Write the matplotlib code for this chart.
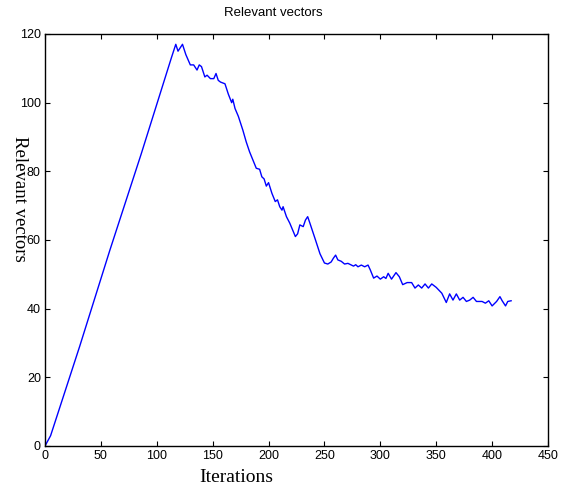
import matplotlib
matplotlib.use('Agg')
from matplotlib import pyplot as plt

# iteration / number of relevant vectors
iterations = [0, 5, 31, 58, 86, 113,
              117, 119, 121, 123, 126, 130, 133, 136, 138, 140, 143, 145, 148, 151,
              153, 155, 157, 161, 164, 167, 168, 170, 173, 177, 180, 183, 186, 189,
              192, 194, 196, 198, 200, 203, 206, 208, 210, 212, 213, 216, 219, 224,
              226, 228, 231, 233, 235, 237, 242, 246, 250, 253, 256, 258, 260, 262,
              265, 268, 271, 276, 278, 280, 283, 286, 289, 291, 294, 297, 300, 303,
              305, 307, 310, 314, 317, 320, 324, 328, 331, 334, 337, 340, 343, 346,
              350, 355, 359, 362, 365, 368, 371, 374, 377, 380, 383, 386, 391, 394,
              397, 400, 404, 407, 409, 412, 414, 417]
relevant = [0, 3, 29, 57, 85, 113,
            117, 115, 116, 117, 114, 111, 111, 109.5, 111, 110.5, 107.5, 108, 107, 107,
            108.5, 106.5, 106, 105.5, 102.5, 100, 101, 98.3, 96, 92, 88.6, 85.7, 83.3, 80.9,
            80.6, 78.4, 77.8, 75.7, 76.7, 73.6, 71.2, 71.7, 69.7, 68.7, 69.7, 66.8, 64.9, 61,
            61.8, 64.4, 63.9, 65.8, 66.8, 64.9, 60, 56, 53.3, 53, 53.6, 54.7, 55.6, 54.2,
            53.8, 53, 53.2, 52.4, 52.8, 52.2, 52.7, 52.2, 52.7, 51.3, 48.9, 49.5, 48.6, 49.3,
            48.8, 50.3, 48.6, 50.5, 49.3, 47, 47.6, 47.6, 46, 46.9, 46, 47.2, 46, 47.2,
            46.2, 44.5, 41.8, 44.3, 42.5, 44.3, 42.5, 43.3, 42.1, 42.5, 43.3, 42.1, 42.1, 41.6,
            42.3, 40.8, 42.1, 43.5, 42.3, 40.8, 42.1, 42.3]

xticks = [0, 50, 100, 150, 200, 250, 300, 350, 400, 450]
yticks = [0, 20, 40, 60, 80, 100, 120]

fig = plt.figure(figsize=(5.68, 4.91), dpi=100)
ax = fig.add_axes([45 / 568, 1 - 446 / 491, 503 / 568, 412 / 491])

ax.plot(iterations, relevant, color='#0000ff', lw=1.0)

ax.set_xlim(0, 450)
ax.set_ylim(0, 120)
ax.set_xticks(xticks)
ax.set_yticks(yticks)
ax.tick_params(direction='in', length=3.5, width=0.8, top=True, right=True,
               labelsize=9, pad=3)
for lab in ax.get_xticklabels() + ax.get_yticklabels():
    lab.set_family('Liberation Sans')
for sp in ax.spines.values():
    sp.set_linewidth(1.0)

fig.text(273 / 568, 1 - 13 / 491, 'Relevant vectors', ha='center', va='center',
         family='Liberation Sans', fontsize=9.5)
fig.text(236 / 568, 1 - 478 / 491, 'Iterations', ha='center', va='center',
         family='Liberation Serif', fontsize=14)
fig.text(19 / 568, 1 - 199 / 491, 'Relevant vectors', ha='center', va='center',
         rotation=270, family='Liberation Serif', fontsize=13.5)

fig.savefig('out.png', dpi=100)
